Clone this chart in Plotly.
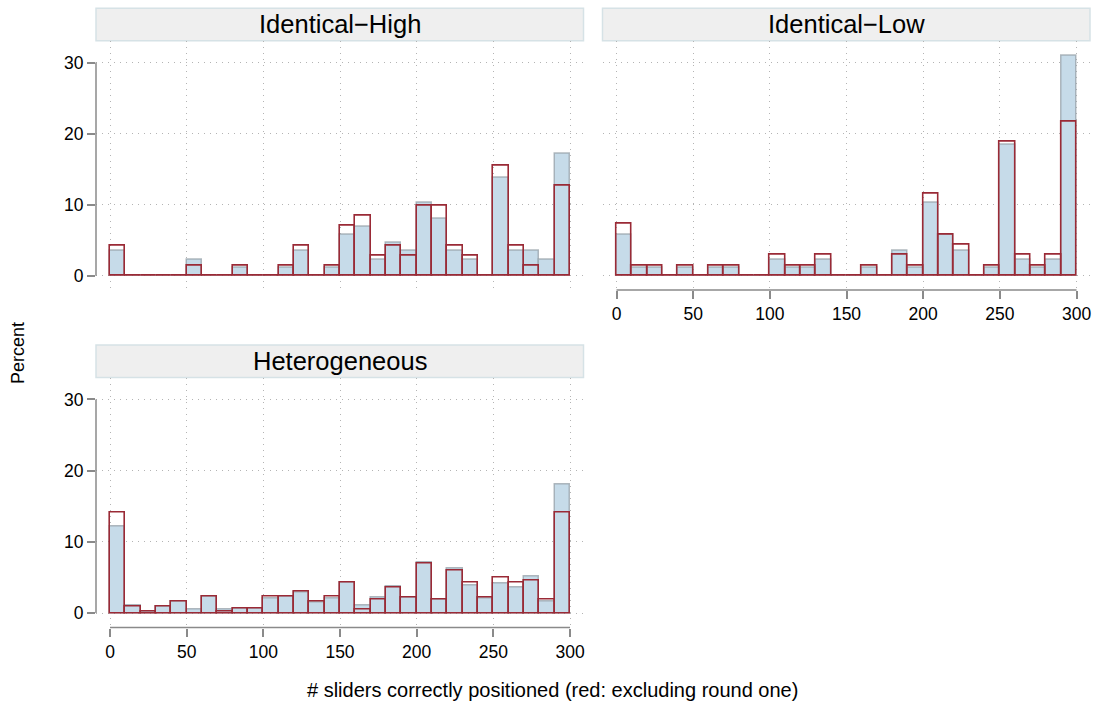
import plotly.graph_objects as go

# ---------------- data ----------------
bin_starts = list(range(0, 300, 10))          # 30 bins of width 10
x_ticks = [0, 50, 100, 150, 200, 250, 300]
y_ticks = [0, 10, 20, 30]
panel_titles = ["Identical\u2212High", "Identical\u2212Low", "Heterogeneous"]
x_title = "# sliders correctly positioned (red: excluding round one)"
y_title = "Percent"

# percent per bin (all rounds = blue, excluding round one = red)
high_all  = [3.45, 0, 0, 0, 0, 2.30, 0, 0, 1.15, 0, 0, 1.15, 3.45, 0, 1.15,
             5.75, 6.90, 2.30, 4.60, 3.45, 10.34, 8.05, 3.45, 2.30, 0, 13.79, 3.45, 3.45, 2.30, 17.24]
high_excl = [4.23, 0, 0, 0, 0, 1.41, 0, 0, 1.41, 0, 0, 1.41, 4.23, 0, 1.41,
             7.04, 8.45, 2.82, 4.23, 2.82, 9.86, 9.86, 4.23, 2.82, 0, 15.49, 4.23, 1.41, 0, 12.68]

low_all   = [5.75, 1.15, 1.15, 0, 1.15, 0, 1.15, 1.15, 0, 0, 2.30, 1.15, 1.15, 2.30, 0,
             0, 1.15, 0, 3.45, 1.15, 10.34, 5.75, 3.45, 0, 1.15, 18.39, 2.30, 1.15, 2.30, 31.03]
low_excl  = [7.25, 1.45, 1.45, 0, 1.45, 0, 1.45, 1.45, 0, 0, 2.90, 1.45, 1.45, 2.90, 0,
             0, 1.45, 0, 2.90, 1.45, 11.59, 5.80, 4.35, 0, 1.45, 18.84, 2.90, 1.45, 2.90, 21.74]

het_all   = [12.10, 1.00, 0.20, 0.90, 1.60, 0.52, 2.30, 0.52, 0.70, 0.70, 2.00, 2.30, 2.90, 1.55, 2.00,
             4.30, 1.03, 2.15, 3.70, 2.25, 7.10, 1.87, 6.23, 3.94, 2.00, 4.22, 3.61, 5.10, 1.69, 18.00]
het_excl  = [14.16, 0.94, 0.23, 0.94, 1.64, 0, 2.30, 0.23, 0.70, 0.70, 2.30, 2.30, 3.05, 1.64, 2.30,
             4.36, 0.56, 1.93, 3.61, 2.25, 7.03, 1.87, 6.00, 4.32, 2.25, 4.97, 4.32, 4.64, 1.87, 14.16]

# ---------------- style ----------------
FONT = "Liberation Sans, Arial, Helvetica, sans-serif"
BLUE_FILL = "#c6dbe9"
BLUE_LINE = "rgba(150,160,168,0.75)"
RED_LINE = "#9a2a36"
GRID = "#b4b4b4"
AXIS = "#8a8a8a"
W, H = 1097, 706

def px_x(p):
    return p / W

def px_y(p):
    return 1 - p / H

dom = {
    1: dict(x=[px_x(96), px_x(583.5)], y=[px_y(290), px_y(40.7)]),
    2: dict(x=[px_x(602.5), px_x(1090)], y=[px_y(290), px_y(40.7)]),
    3: dict(x=[px_x(96), px_x(583.5)], y=[px_y(627.5), px_y(377.5)]),
}
XR = [-9.13, 308.8]
YR = [-2.02, 33.08]

panels = [(1, high_all, high_excl), (2, low_all, low_excl), (3, het_all, het_excl)]
centers = [b + 5 for b in bin_starts]

fig = go.Figure()
for k, all_v, excl_v in panels:
    xa = "x" if k == 1 else f"x{k}"
    ya = "y" if k == 1 else f"y{k}"
    fig.add_trace(go.Bar(x=centers, y=all_v, width=10, xaxis=xa, yaxis=ya,
                         marker=dict(color=BLUE_FILL, line=dict(color=BLUE_LINE, width=1.5)),
                         showlegend=False, hoverinfo="x+y"))
    fig.add_trace(go.Bar(x=centers, y=excl_v, width=10, xaxis=xa, yaxis=ya,
                         marker=dict(color="rgba(0,0,0,0)", line=dict(color=RED_LINE, width=1.6)),
                         showlegend=False, hoverinfo="x+y"))

layout = dict(
    width=W, height=H, margin=dict(l=0, r=0, t=0, b=0),
    paper_bgcolor="white", plot_bgcolor="white",
    barmode="overlay", bargap=0,
    font=dict(family=FONT, size=16, color="black"),
    shapes=[], annotations=[],
)

for k in (1, 2, 3):
    sx = "" if k == 1 else str(k)
    show_x = k in (2, 3)
    show_y = k in (1, 3)
    layout[f"xaxis{sx}"] = dict(
        domain=dom[k]["x"], range=XR, anchor=f"y{sx}",
        tickvals=x_ticks, showticklabels=show_x,
        ticks="outside" if show_x else "", ticklen=8, tickwidth=1.5, tickcolor=AXIS,
        showgrid=True, gridcolor=GRID, griddash="1px,5px", gridwidth=1,
        zeroline=False, showline=False, tickfont=dict(size=17.5), fixedrange=True,
    )
    layout[f"yaxis{sx}"] = dict(
        domain=dom[k]["y"], range=YR, anchor=f"x{sx}",
        tickvals=y_ticks, showticklabels=show_y,
        ticks="outside" if show_y else "", ticklen=8, tickwidth=1.5, tickcolor=AXIS,
        showgrid=True, gridcolor=GRID, griddash="1px,5px", gridwidth=1,
        zeroline=False, showline=False, tickfont=dict(size=17.5), fixedrange=True,
    )
    xr = "x" if k == 1 else f"x{k}"
    yr = "y" if k == 1 else f"y{k}"
    if show_y:
        layout["shapes"].append(dict(type="line", xref=f"{xr} domain", yref=yr,
                                     x0=0, x1=0, y0=y_ticks[0], y1=y_ticks[-1],
                                     line=dict(color=AXIS, width=1.5), layer="above"))
    if show_x:
        layout["shapes"].append(dict(type="line", xref=xr, yref=f"{yr} domain",
                                     x0=x_ticks[0], x1=x_ticks[-1], y0=0, y1=0,
                                     line=dict(color=AXIS, width=1.5), layer="above"))
    # strip header
    x0, x1 = dom[k]["x"]
    ytop = dom[k]["y"][1]
    htop = ytop + 32.4 / H
    layout["shapes"].append(dict(type="rect", xref="paper", yref="paper",
                                 x0=x0, x1=x1, y0=ytop, y1=htop,
                                 fillcolor="#efefef", line=dict(color="#d6e2e6", width=1.5),
                                 layer="below"))
    layout["annotations"].append(dict(text=panel_titles[k - 1], xref="paper", yref="paper",
                                      x=(x0 + x1) / 2, y=(ytop + htop) / 2,
                                      xanchor="center", yanchor="middle", showarrow=False,
                                      font=dict(size=25.5, color="black")))

layout["annotations"].append(dict(text=x_title, xref="paper", yref="paper",
                                  x=px_x(552.5), y=px_y(690), xanchor="center", yanchor="middle",
                                  showarrow=False, font=dict(size=20)))
layout["annotations"].append(dict(text=y_title, xref="paper", yref="paper",
                                  x=px_x(18), y=px_y(353), xanchor="center", yanchor="middle",
                                  textangle=-90, showarrow=False, font=dict(size=18)))

fig.update_layout(**layout)
fig.write_html("out.html")
